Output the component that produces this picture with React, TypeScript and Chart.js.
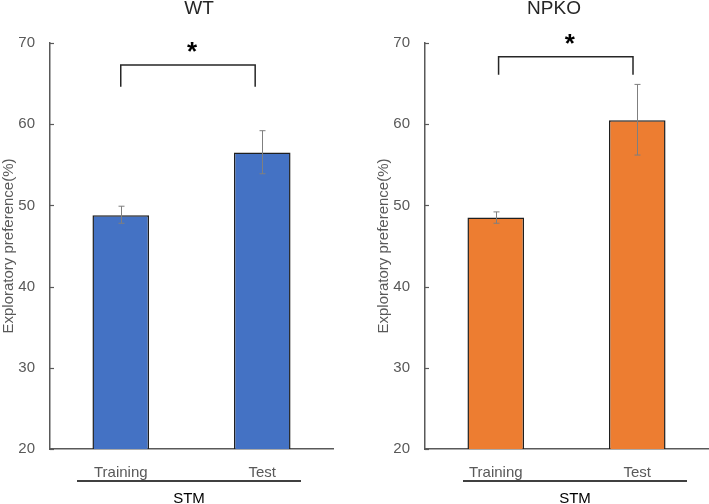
import { useEffect, useRef } from "react"
import { Chart, registerables, Plugin } from "chart.js"

Chart.register(...registerables)

// ── data ─────────────────────────────────────────────────────
const categories = ["Training", "Test"]
const yTicks = [20, 30, 40, 50, 60, 70]

const wtMeans = [48.8, 56.5]
const wtErrLow = [47.8, 53.9]
const wtErrHigh = [49.9, 59.2]
const wtBracket = [64.6, 67.3] // leg bottom, bar top
const wtBracketSpan = [0, 0.95] // category positions

const npkoMeans = [48.5, 60.5]
const npkoErrLow = [47.8, 56.2]
const npkoErrHigh = [49.2, 64.9]
const npkoBracket = [66.1, 68.3]
const npkoBracketSpan = [0.02, 0.97]

const AXIS = "#595959"
const FONT = "'Liberation Sans', Arial, sans-serif"

interface PanelProps {
  title: string
  titleX: number
  color: string
  means: number[]
  errLow: number[]
  errHigh: number[]
  bracket: number[]
  bracketSpan: number[]
  groupLine: number[]
  left: number
  width: number
}

function Panel(p: PanelProps) {
  const canvasRef = useRef<HTMLCanvasElement>(null)

  useEffect(() => {
    const canvas = canvasRef.current
    if (!canvas) return

    const extras: Plugin<"bar"> = {
      id: "extras",
      afterDraw(chart) {
        const ctx = chart.ctx
        const x = chart.scales.x
        const y = chart.scales.y
        const area = chart.chartArea
        ctx.save()

        // inward tick marks on y axis
        ctx.strokeStyle = AXIS
        ctx.lineWidth = 1.2
        yTicks.forEach((v) => {
          const py = Math.round(y.getPixelForValue(v)) + 0.5
          ctx.beginPath()
          ctx.moveTo(area.left, py)
          ctx.lineTo(area.left + 4, py)
          ctx.stroke()
        })

        // error bars
        ctx.strokeStyle = "#7f7f7f"
        ctx.lineWidth = 1
        p.means.forEach((_, i) => {
          const px = Math.round(x.getPixelForValue(i)) + 0.5
          const lo = y.getPixelForValue(p.errLow[i])
          const hi = y.getPixelForValue(p.errHigh[i])
          ctx.beginPath()
          ctx.moveTo(px, lo)
          ctx.lineTo(px, hi)
          ctx.moveTo(px - 3, lo)
          ctx.lineTo(px + 3, lo)
          ctx.moveTo(px - 3, hi)
          ctx.lineTo(px + 3, hi)
          ctx.stroke()
        })

        // significance bracket
        const bx1 = x.getPixelForValue(p.bracketSpan[0])
        const bx2 = x.getPixelForValue(p.bracketSpan[1])
        const bTop = y.getPixelForValue(p.bracket[1])
        const bBot = y.getPixelForValue(p.bracket[0])
        ctx.strokeStyle = "#262626"
        ctx.lineWidth = 1.5
        ctx.beginPath()
        ctx.moveTo(bx1, bBot)
        ctx.lineTo(bx1, bTop)
        ctx.lineTo(bx2, bTop)
        ctx.lineTo(bx2, bBot)
        ctx.stroke()

        ctx.fillStyle = "#000"
        ctx.font = `bold 26px ${FONT}`
        ctx.textAlign = "center"
        ctx.textBaseline = "middle"
        ctx.fillText("*", (bx1 + bx2) / 2 + 4, bTop - 12)

        // group line + label
        const lx1 = area.left + p.groupLine[0]
        const lx2 = area.left + p.groupLine[1]
        ctx.strokeStyle = "#000"
        ctx.lineWidth = 1.5
        ctx.beginPath()
        ctx.moveTo(lx1, 481)
        ctx.lineTo(lx2, 481)
        ctx.stroke()
        ctx.font = `15px ${FONT}`
        ctx.fillText("STM", (lx1 + lx2) / 2, 499)

        // title
        ctx.fillStyle = "#262626"
        ctx.font = `19px ${FONT}`
        ctx.fillText(p.title, p.titleX, 9)
        ctx.restore()
      },
    }

    const chart = new Chart(canvas, {
      type: "bar",
      data: {
        labels: categories,
        datasets: [
          {
            data: p.means,
            backgroundColor: p.color,
            borderColor: "#1f1f1f",
            borderWidth: 1.5,
            barPercentage: 0.4,
            categoryPercentage: 1,
          },
        ],
      },
      options: {
        animation: false,
        responsive: false,
        devicePixelRatio: 1,
        layout: { padding: { top: 43, right: p.width - 50 - 283, left: 0, bottom: 0 } },
        plugins: { legend: { display: false }, tooltip: { enabled: false } },
        scales: {
          x: {
            type: "category",
            grid: { display: false },
            border: { color: AXIS, width: 1.5 },
            ticks: { color: AXIS, font: { family: FONT, size: 15 }, padding: 7 },
            afterFit: (s) => {
              s.height = 55
            },
          },
          y: {
            min: 20,
            max: 70,
            grid: { display: false },
            border: { color: AXIS, width: 1.5 },
            ticks: {
              stepSize: 10,
              color: AXIS,
              font: { family: FONT, size: 15 },
              padding: 7,
            },
            title: {
              display: true,
              text: "Exploratory preference(%)",
              color: AXIS,
              font: { family: FONT, size: 15 },
              padding: 0,
            },
            afterFit: (s) => {
              s.width = 50
            },
          },
        },
      },
      plugins: [extras],
    })

    return () => chart.destroy()
  }, [])

  return (
    <canvas
      ref={canvasRef}
      width={p.width}
      height={504}
      style={{ position: "absolute", left: p.left, top: 0 }}
    />
  )
}

export default function App() {
  useEffect(() => {
    document.body.style.margin = "0"
  }, [])
  return (
    <div style={{ position: "relative", width: 709, height: 504, background: "#fff" }}>
      <Panel
        title="WT"
        titleX={199}
        color="#4472C4"
        means={wtMeans}
        errLow={wtErrLow}
        errHigh={wtErrHigh}
        bracket={wtBracket}
        bracketSpan={wtBracketSpan}
        groupLine={[27, 251]}
        left={0}
        width={345}
      />
      <Panel
        title="NPKO"
        titleX={179}
        color="#ED7D31"
        means={npkoMeans}
        errLow={npkoErrLow}
        errHigh={npkoErrHigh}
        bracket={npkoBracket}
        bracketSpan={npkoBracketSpan}
        groupLine={[38, 262]}
        left={375}
        width={334}
      />
    </div>
  )
}
